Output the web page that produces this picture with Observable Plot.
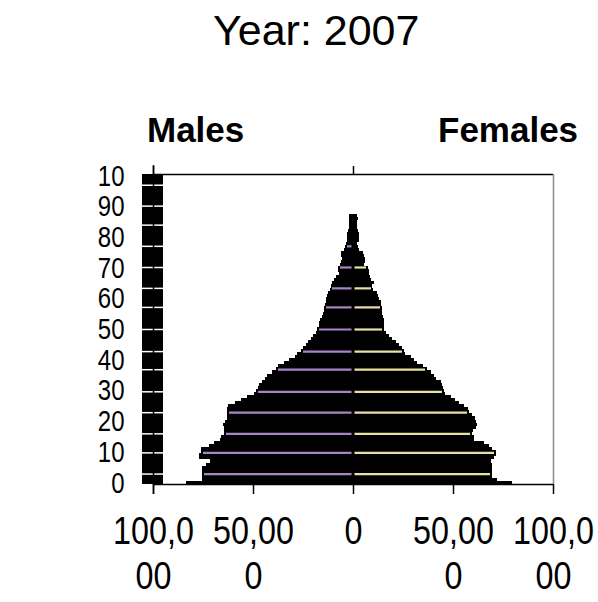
<!DOCTYPE html>
<html><head><meta charset="utf-8">
<script src="https://cdn.jsdelivr.net/npm/d3@7"></script>
<script src="https://cdn.jsdelivr.net/npm/@observablehq/plot@0.6"></script>
<style>
body{margin:0;background:#fff;}
#wrap{position:relative;width:598px;height:602px;font-family:"Liberation Sans",Arial,sans-serif;color:#000;overflow:hidden;}
.lbl{position:absolute;white-space:nowrap;line-height:1;}
#plot{position:absolute;left:0;top:160px;}
</style></head><body>
<div id="wrap">
  <div class="lbl" style="left:213px;top:8.6px;font-size:43px;">Year: 2007</div>
  <div class="lbl" style="left:147px;top:112.4px;font-size:35px;font-weight:bold;">Males</div>
  <div class="lbl" style="left:438px;top:112.4px;font-size:35px;font-weight:bold;">Females</div>
  <div class="lbl" style="left:10px;top:312px;font-size:32px;font-weight:bold;">Age</div>
  <div id="plot"></div>
</div>
<script>
const ages = d3.range(0, 101);
const males = [83500,75500,75500,75500,75500,75500,73500,71500,77000,77000,
 76000,76000,72000,69500,66500,66000,64500,64500,64500,65000,
 64000,63000,63000,63000,63000,62500,59000,56000,53000,49500,
 48500,47500,47000,45500,44000,43000,40500,38500,37500,34500,
 32000,29000,28000,26000,25000,23500,22500,21000,20000,18500,
 18000,17000,17000,16500,15500,15000,14500,14500,14000,13500,
 13500,13000,12500,11500,11000,10500,9500,8500,7000,7500,
 7500,6500,6000,5500,6000,6000,4500,4000,3500,3000,
 3000,3000,2500,2000,2000,2000,2000,2000,0,0,
 0,0,0,0,0,0,0,0,0,0,0];
const females = [79500,72000,69500,69500,69500,69500,69500,69000,70500,71500,
 71500,69500,68000,65500,60500,60500,59500,60000,61500,62000,
 61500,61000,59500,58000,57500,55500,53000,51000,49000,46000,
 45500,45000,44500,44000,41500,40500,39000,37000,35000,32000,
 30500,29000,26000,25500,24500,23000,21500,19500,18000,16500,
 15500,15500,15500,15500,15000,14500,14500,14500,14000,14000,
 13000,12500,12000,10000,9500,10500,9000,8500,8000,8000,
 7500,5500,6000,6000,5500,5000,3000,2500,2000,3000,
 3000,3000,2500,2000,2000,2000,2500,2000,0,0,
 0,0,0,0,0,0,0,0,0,0,0];
// ages at which the lighter bar fill shows through as a thin line
const stripeAges = [2.9, 9.8, 16, 22.9, 29.7, 36.9, 42.8, 50, 57.2, 63.4, 70.2, 77.1, 84, 90.2, 97];
const xTicks = [-100000, -50000, 0, 50000, 100000];
const xTickLabels = ["100,0\n00", "50,00\n0", "0", "50,00\n0", "100,0\n00"];
const topTicks = [-100000, 0];
const yTicks = [0, 10, 20, 30, 40, 50, 60, 70, 80, 90, 100];
const yTickLabels = ["0", "10", "20", "30", "40", "50", "60", "70", "80", "90", "10"];

const rows = ages.map(a => ({age: a, male: males[a], female: females[a]}));
const xMin = xTicks[0], xMax = xTicks[xTicks.length - 1];
const nearest = d => Math.round(d);

const chart = Plot.plot({
  width: 598, height: 442,
  marginTop: 14, marginBottom: 118, marginLeft: 153, marginRight: 45,
  x: {domain: [xMin, xMax], label: null},
  y: {domain: [-0.5, 100.5], label: null},
  style: {fontFamily: "Liberation Sans, Arial, sans-serif", color: "#000", background: "#fff", overflow: "visible"},
  marks: [
    Plot.rect(rows, {x1: d => -d.male, x2: () => 0, y1: d => d.age - 0.5, y2: d => d.age + 0.5, fill: "#000", shapeRendering: "crispEdges"}),
    Plot.rect(rows, {x1: () => 0, x2: d => d.female, y1: d => d.age - 0.5, y2: d => d.age + 0.5, fill: "#000", shapeRendering: "crispEdges"}),
    Plot.ruleY(stripeAges.filter(d => males[nearest(d)] > 2500), {y: d => d, x1: d => -males[nearest(d)], x2: () => 0, insetLeft: 2, insetRight: 1.5, stroke: "#a586c8", strokeWidth: 2.2}),
    Plot.ruleY(stripeAges.filter(d => females[nearest(d)] > 2500), {y: d => d, x1: () => 0, x2: d => females[nearest(d)], insetLeft: 1.5, insetRight: 2, stroke: "#e8e2a2", strokeWidth: 2.2}),
    // dense category tick marks on the left axis
    Plot.rect(ages, {x1: () => xMin, x2: () => xMin, y1: d => d - 0.5, y2: d => d + 0.5, insetLeft: -11, insetRight: -10, fill: "#000", shapeRendering: "crispEdges"}),
    Plot.ruleY(stripeAges, {y: d => d, x1: () => xMin, x2: () => xMin, insetLeft: -11, insetRight: -10, stroke: "#fff", strokeWidth: 1.5}),
    // frame
    Plot.ruleY([100.5], {stroke: "#000", strokeWidth: 1.5}),
    Plot.ruleY([-0.5], {stroke: "#000", strokeWidth: 1.5}),
    Plot.ruleX([xMax], {stroke: "#8a8a8a", strokeWidth: 1.5}),
    Plot.ruleX([xMin], {stroke: "#000", strokeWidth: 1.5, insetTop: -9, insetBottom: -10}),
    Plot.axisX(topTicks, {anchor: "top", tickSize: 9, tickFormat: () => "", strokeWidth: 1.5, label: null}),
    Plot.axisX(xTicks, {anchor: "bottom", tickSize: 10, tickPadding: 18, strokeWidth: 1.5,
      tickFormat: d => xTickLabels[xTicks.indexOf(d)], fontSize: 38, lineHeight: 1.18, label: null}),
    Plot.axisY(yTicks, {anchor: "left", tickSize: 0, tickPadding: 29,
      tickFormat: d => yTickLabels[yTicks.indexOf(d)], fontSize: 30, label: null})
  ]
});
document.getElementById("plot").appendChild(chart);

// narrow the tick label glyphs horizontally, as in the original
function squeeze(selector, s) {
  chart.querySelectorAll(selector).forEach(t => {
    const tr = t.getAttribute("transform") || "";
    t.setAttribute("transform", tr + ` scale(${s},1)`);
  });
}
squeeze('[aria-label="x-axis tick label"] text', 0.85);
squeeze('[aria-label="y-axis tick label"] text', 0.8);
</script>
</body></html>
